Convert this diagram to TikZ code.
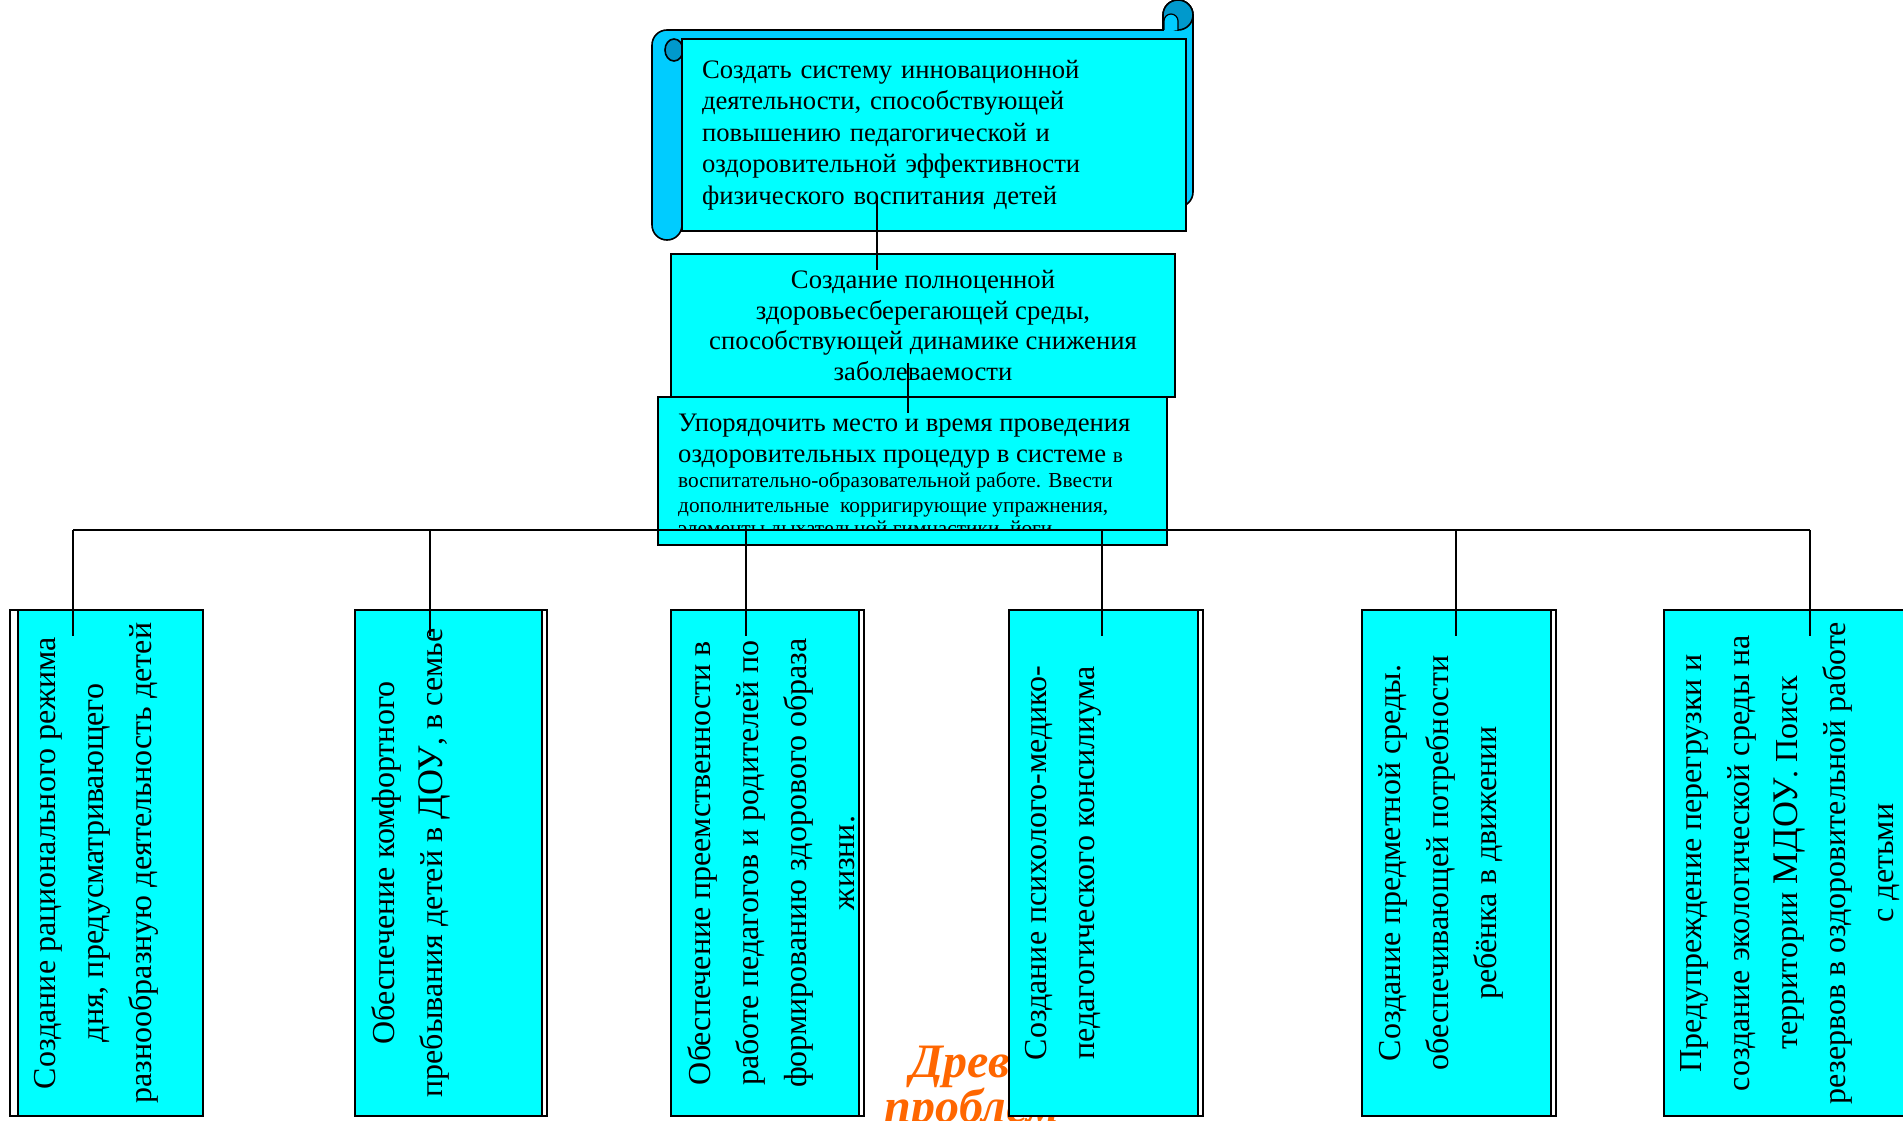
\documentclass[tikz,border=0pt]{standalone}
\usepackage{fontspec}
\setmainfont{Liberation Serif}
\definecolor{boxcyan}{HTML}{00FFFF}
\definecolor{scrollblue}{HTML}{00CCFF}
\definecolor{curlblue}{HTML}{0099CC}
\definecolor{treeorange}{HTML}{FF6600}
\newcommand{\goalfont}{\fontsize{26.67}{31.5}\selectfont}
\newcommand{\midfont}{\fontsize{26.67}{30.5}\selectfont}
\newcommand{\boxsmall}{\fontsize{21.33}{25}\selectfont}
\newcommand{\vertfont}{\fontsize{32}{48}\selectfont}
\newcommand{\abbrfont}{\fontsize{36}{48}\selectfont}
\newcommand{\treefont}{\fontsize{48}{45}\selectfont\bfseries\itshape}

\begin{document}
\begin{tikzpicture}[x=1pt,y=-1pt,
	cbox/.style={draw, line width=1.6pt, fill=boxcyan, inner sep=0pt},
	backbox/.style={draw, line width=1.6pt, fill=white},
	rollpart/.style={draw, line width=1.6pt, fill=scrollblue},
	link/.style={line width=1.6pt},
	vtext/.style={rotate=90, anchor=north, align=center, inner sep=0pt, font=\vertfont}]
	\useasboundingbox (0,0) rectangle (1903,1121);
	\draw[rollpart] (682,225) arc[start angle=0,end angle=180,radius=15] -- (652,45)
		arc[start angle=180,end angle=270,radius=15] -- (1163,30) -- (1163,15)
		arc[start angle=180,end angle=360,radius=15] -- (1193,192)
		arc[start angle=0,end angle=90,radius=15] -- (1178,231) -- (682,231) -- cycle;
	\draw[line width=1.6pt, fill=curlblue] (1178,15) circle (15);
	\draw[rollpart, line width=1.2pt] (1164,30) -- (1164,21) arc[start angle=180,end angle=360,radius=7] -- (1178,30);
	\draw[line width=1.6pt, fill=curlblue] (674,50) ellipse [x radius=9, y radius=11];
	\node[cbox, minimum width=504pt, minimum height=192pt, text width=464pt, align=left, font=\goalfont] (goal) at (934,135)
		{Создать систему инновационной\\деятельности, способствующей\\повышению педагогической и\\оздоровительной эффективности\\физического воспитания детей};
	\node[cbox, minimum width=509pt, minimum height=148pt] (order) at (912.5,471) {};
	\begin{scope}
		\clip (660,399) rectangle (1165,530);
		\node[anchor=north west, inner sep=0pt, align=left, font=\midfont] (ordertext) at (678,414)
			{Упорядочить место и время проведения\\оздоровительных процедур в системе {\boxsmall в}\\[-5.5pt]
			{\boxsmall воспитательно-образовательной работе. Ввести}\\[-5.5pt]
			{\boxsmall дополнительные\ \ корригирующие упражнения,}\\[-7.5pt]
			{\boxsmall элементы дыхательной гимнастики, йоги .}};
	\end{scope}
	\node[cbox, minimum width=504pt, minimum height=143pt, align=center, font=\midfont] (env) at (923,325.5)
		{Создание полноценной\\здоровьесберегающей среды,\\способствующей динамике снижения\\заболеваемости};
	\node[anchor=north, align=center, inner sep=0pt, font=\treefont, text=treeorange] (tree) at (972,1046) {Древо\\проблем};
	\foreach \fl/\fr/\bl/\br/\dx/\txt [count=\i] in {
		18/203/10/203/73/{Создание рационального режима\\дня, предусматривающего\\разнообразную деятельность детей},
		355/542/355/547/430/{Обеспечение комфортного\\пребывания детей в {\abbrfont ДОУ}, в семье},
		671/859/671/864/746/{Обеспечение преемственности в\\работе педагогов и родителей по\\формированию здорового образа\\жизни.},
		1009/1198/1009/1203/1102/{Создание психолого-медико-\\педагогического консилиума},
		1362/1551/1362/1556/1456/{Создание предметной среды.\\обеспечивающей потребности\\ребёнка в движении},
		1664/1920/1664/1920/1810/{Предупреждение перегрузки и\\создание экологической среды на\\территории {\abbrfont МДОУ}. Поиск\\резервов в оздоровительной работе\\с детьми}}{
		\draw[backbox] (\bl,610) rectangle (\br,1116);
		\node[cbox, minimum width={\fr-\fl}, minimum height=506pt] (b\i) at ({(\fl+\fr)/2},863) {};
		\node[vtext] (t\i) at ([xshift=17pt]b\i.west) {\txt};
		\coordinate (d\i) at (\dx,530);
		\draw[link] (d\i) -- ++(0,106);}
	\coordinate (s1) at (877,200);
	\coordinate (s2) at (877,270);
	\coordinate (m1) at (908,363);
	\coordinate (m2) at (908,413);
	\draw[link] (s1) -- (s2);
	\draw[link] (m1) -- (m2);
	\draw[link] (d1) -- (d6);
\end{tikzpicture}
\end{document}
